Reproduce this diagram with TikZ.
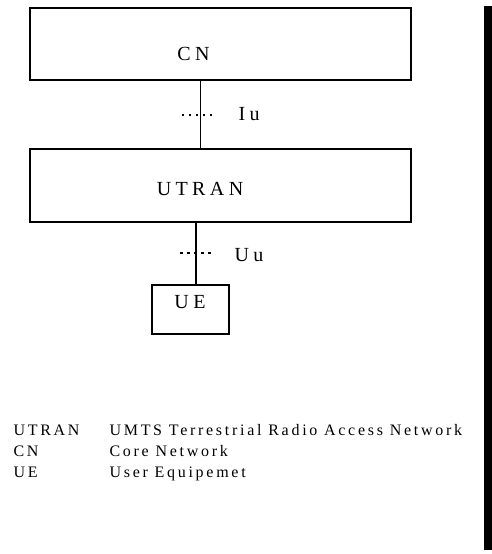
\documentclass[tikz,border=0pt]{standalone}
\usepackage{fontspec}
\setmainfont{Liberation Serif}
\newfontfamily\boxfont[LetterSpace=22]{Liberation Serif}
\newfontfamily\keyfont[LetterSpace=17]{Liberation Serif}
\usepackage{tikz}

\begin{document}
\begin{tikzpicture}[x=1pt, y=-1pt, line width=1.1pt,
  block/.style = {draw, rectangle, inner sep=0pt},
  boxlabel/.style = {font=\boxfont\fontsize{20}{20}\selectfont, inner sep=0pt},
  legendtext/.style = {font=\keyfont\fontsize{16}{16}\selectfont, inner sep=0pt, anchor=base west},
  dots/.style = {line width=1.3pt, dash pattern=on 2.5pt off 4.5pt}]
\useasboundingbox (0,0) rectangle (492,554);
% boxes
\node[block, minimum width=381pt, minimum height=72pt] (cn) at (220.5,44) {};
\node[block, minimum width=381pt, minimum height=73pt] (utran) at (220.5,185.5) {};
\node[block, minimum width=77pt, minimum height=49pt] (ue) at (190.5,309.5) {};
\node[boxlabel] (cntext) at (193.5,54) {CN};
\node[boxlabel] (utrantext) at (200,188.5) {UTRAN};
\node[boxlabel] (uetext) at (190,302.5) {UE};
% interfaces
\coordinate (iu) at (200.5,115);
\coordinate (uu) at (196,253);
\draw (iu |- cn.south) -- (iu |- utran.north);
\draw (uu |- utran.south) -- (uu |- ue.north);
\draw[dots] ([xshift=-19pt]iu) -- ([xshift=16pt]iu);
\draw[dots] ([xshift=-16pt]uu) -- ([xshift=19pt]uu);
\node[boxlabel, anchor=west] (iutext) at (238,114) {Iu};
\node[boxlabel, anchor=west] (uutext) at (234,255) {Uu};
% legend
\node[legendtext] (k1) at (13,435.5) {UTRAN};
\node[legendtext] (k2) at (13,456.5) {CN};
\node[legendtext] (k3) at (13,477) {UE};
\node[legendtext] (d1) at (109,435.5) {UMTS Terrestrial Radio Access Network};
\node[legendtext] (d2) at (109,456.5) {Core Network};
\node[legendtext] (d3) at (109,477) {User Equipemet};
% right edge bar
\fill (484,6) rectangle (492,550);
\end{tikzpicture}
\end{document}
